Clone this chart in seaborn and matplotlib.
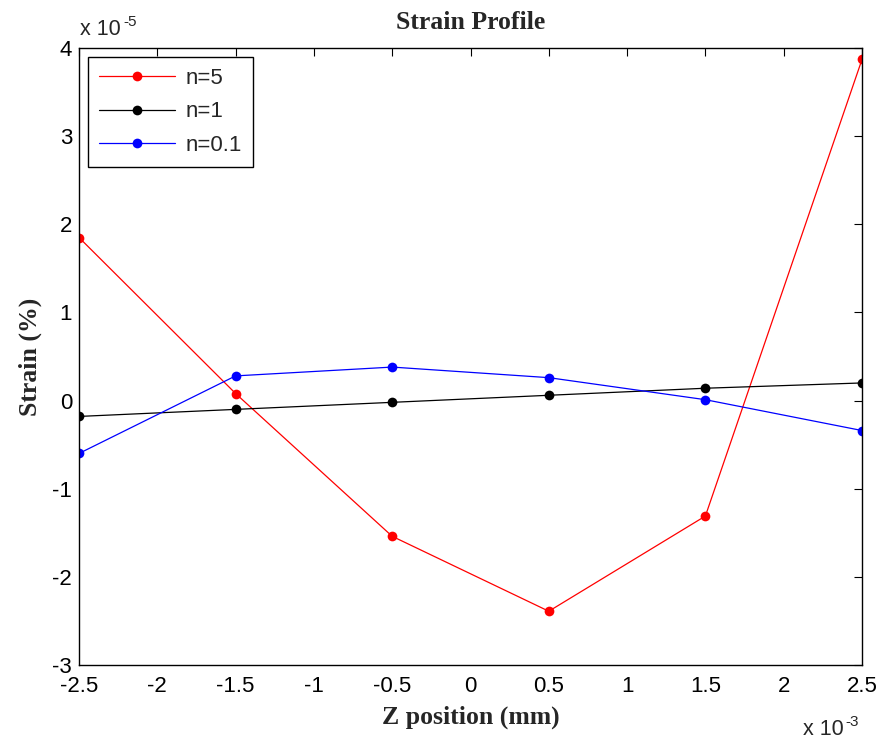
import matplotlib
matplotlib.use("Agg")
import matplotlib.pyplot as plt
import seaborn as sns
import pandas as pd
import numpy as np

# Z position in units of 1e-3 mm, strain in units of 1e-5
z_pos = [-2.5, -1.5, -0.5, 0.5, 1.5, 2.5]
strain_n5 = [1.85, 0.08, -1.54, -2.39, -1.31, 3.87]
strain_n1 = [-0.18, -0.10, -0.02, 0.06, 0.14, 0.20]
strain_n01 = [-0.60, 0.28, 0.38, 0.26, 0.01, -0.34]
series_names = ["n=5", "n=1", "n=0.1"]
colors = ["#ff0000", "#000000", "#0000ff"]

x_ticks = [-2.5, -2, -1.5, -1, -0.5, 0, 0.5, 1, 1.5, 2, 2.5]
x_ticklabels = ["-2.5", "-2", "-1.5", "-1", "-0.5", "0", "0.5", "1", "1.5", "2", "2.5"]
y_ticks = [-3, -2, -1, 0, 1, 2, 3, 4]
y_ticklabels = ["-3", "-2", "-1", "0", "1", "2", "3", "4"]

sns.set_style("white")
plt.rcParams['font.family'] = ['Liberation Sans', 'DejaVu Sans']

df = pd.concat([
    pd.DataFrame({"z": z_pos, "strain": vals, "series": name})
    for name, vals in zip(series_names, [strain_n5, strain_n1, strain_n01])
])

W, H = 883, 741
fig = plt.figure(figsize=(8.83, 7.41), dpi=100)
ax = fig.add_axes([79/W, 1-665/H, (862-79)/W, (665-48)/H])

sns.lineplot(data=df, x="z", y="strain", hue="series", hue_order=series_names,
             palette=colors, marker="o", markersize=7, markeredgewidth=0,
             linewidth=0.9, sort=False, ax=ax)

ax.set_xlim(-2.5, 2.5)
ax.set_ylim(-3, 4)
ax.set_xticks(x_ticks)
ax.set_xticklabels(x_ticklabels)
ax.set_yticks(y_ticks)
ax.set_yticklabels(y_ticklabels)
ax.tick_params(direction="in", length=6, width=0.8, top=True, right=True,
               labelsize=16, pad=5, colors="black")
ax.tick_params(axis="x", pad=8)
for s in ax.spines.values():
    s.set_color("black")
    s.set_linewidth(1.0)

serif = dict(fontfamily="Liberation Serif", fontweight="bold", fontsize=18.5)
ax.set_xlabel("Z position (mm)", labelpad=6, **serif)
ax.set_ylabel("Strain (%)", labelpad=7, **serif)
ax.set_title("Strain Profile", pad=14, **serif)

fig.text(80/W, 1-35/H, "x 10", fontsize=15.5, ha="left", va="baseline")
fig.text(123/W, 1-26/H, "-5", fontsize=11, ha="left", va="baseline")
fig.text(803/W, 1-735/H, "x 10", fontsize=15.5, ha="left", va="baseline")
fig.text(845/W, 1-726/H, "-3", fontsize=11, ha="left", va="baseline")

leg = ax.legend(loc="upper left", bbox_to_anchor=(9/783, 1-9/617), borderaxespad=0,
                fontsize=16, frameon=True, fancybox=False, edgecolor="black", framealpha=1,
                handlelength=3.4, borderpad=0.5, labelspacing=0.55, handletextpad=0.5)
leg.get_frame().set_linewidth(1.0)

fig.savefig("out.png", dpi=100)
